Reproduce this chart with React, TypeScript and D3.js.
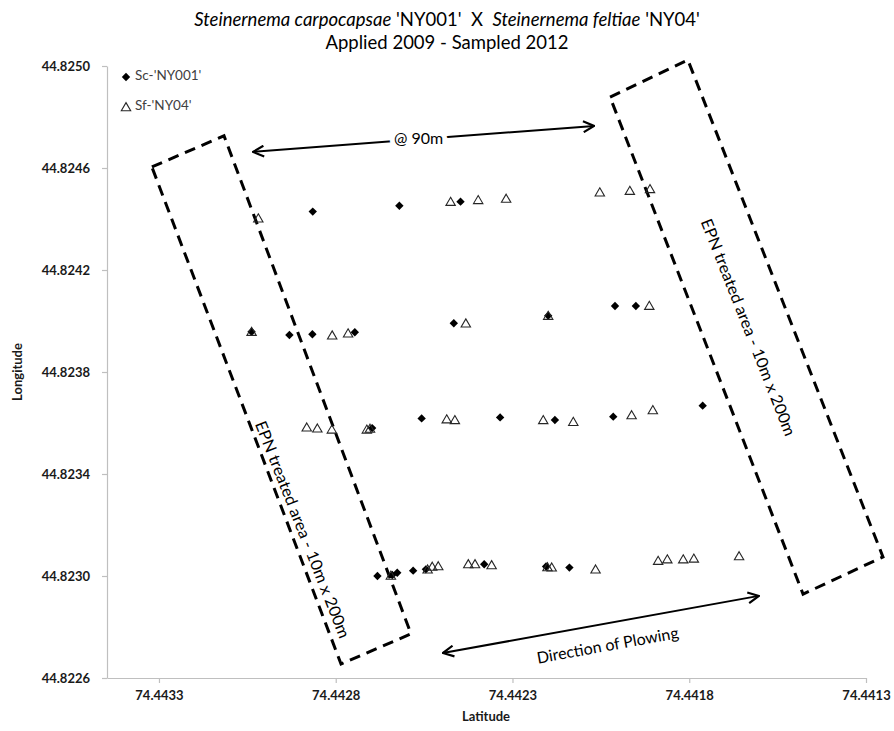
import React, { useEffect, useRef } from "react";
import * as d3 from "d3";

// Sampling locations: [latitude axis value, longitude axis value]
const scNY001: [number, number][] = [
  // transect 1
  [74.442865, 44.824429], [74.44262, 44.824452], [74.442447, 44.824468],
  // transect 2
  [74.443038, 44.823958], [74.442931, 44.823945], [74.442866, 44.823948],
  [74.442746, 44.823956], [74.442466, 44.823991], [74.442199, 44.824021],
  [74.44201, 44.824059], [74.441951, 44.824059],
  // transect 3
  [74.442697, 44.82358], [74.442557, 44.823618], [74.442335, 44.823622],
  [74.44218, 44.823612], [74.442015, 44.823625], [74.441762, 44.823668],
  // transect 4
  [74.442682, 44.823], [74.44264, 44.823004], [74.442626, 44.823013],
  [74.442581, 44.823021], [74.442545, 44.823026], [74.44238, 44.823046],
  [74.442205, 44.823037], [74.442139, 44.823033],
];

const sfNY04: [number, number][] = [
  // transect 1
  [74.443019, 44.824403], [74.442475, 44.824468], [74.442397, 44.824475],
  [74.442318, 44.82448], [74.442053, 44.824505], [74.441968, 44.824511],
  [74.441911, 44.824518],
  // transect 2
  [74.443038, 44.823958], [74.44281, 44.823944], [74.442765, 44.823952],
  [74.442432, 44.823991], [74.442199, 44.824021], [74.441913, 44.82406],
  // transect 3
  [74.442882, 44.823583], [74.442852, 44.823579], [74.442811, 44.823575],
  [74.442712, 44.823575], [74.442703, 44.823578], [74.442486, 44.823615],
  [74.442463, 44.823612], [74.442213, 44.823612], [74.442128, 44.823605],
  [74.441963, 44.823631], [74.441903, 44.823651],
  // transect 4
  [74.442644, 44.823002], [74.44254, 44.823026], [74.442527, 44.823037],
  [74.44251, 44.823039], [74.442425, 44.823047], [74.442406, 44.823047],
  [74.442359, 44.823043], [74.442201, 44.823035], [74.442189, 44.823034],
  [74.442065, 44.823026], [74.441888, 44.82306], [74.441862, 44.823066],
  [74.441817, 44.823066], [74.441787, 44.823069], [74.441659, 44.823078],
];

const xTicks = [74.4433, 74.4428, 74.4423, 74.4418, 74.4413];
const yTicks = [44.8226, 44.823, 44.8234, 44.8238, 44.8242, 44.8246, 44.825];

// Treated strips (corners in map units)
const leftStrip: [number, number][] = [
  [74.44332, 44.824604], [74.443116, 44.824726],
  [74.442587, 44.822773], [74.442785, 44.822655],
];
const rightStrip: [number, number][] = [
  [74.442024, 44.824878], [74.441804, 44.825024],
  [74.441252, 44.823075], [74.441478, 44.822929],
];

// Double-headed arrows
const spacingArrow: [number, number][] = [[74.443034, 44.824663], [74.442069, 44.824765]];
const plowArrow: [number, number][] = [[74.442497, 44.822698], [74.441603, 44.822922]];

const W = 894;
const H = 731;
const FONT = "Lato, 'Open Sans', 'DejaVu Sans', sans-serif";

const x = d3.scaleLinear().domain([74.443447, 74.4413]).range([107, 866]);
const y = d3.scaleLinear().domain([44.8226, 44.825]).range([678, 66]);

const diamond = "M0,-4.2L4.2,0L0,4.2L-4.2,0Z";
const triangle = "M0,-4.4L4.7,3.7L-4.7,3.7Z";

const strip = d3.line<[number, number]>().x((d) => x(d[0])).y((d) => y(d[1])).curve(d3.curveLinearClosed);

export default function App() {
  const xAxisRef = useRef<SVGGElement>(null);
  const yAxisRef = useRef<SVGGElement>(null);

  useEffect(() => {
    const fmt = d3.format(".4f");
    const gx = d3.select(xAxisRef.current!);
    gx.call(d3.axisBottom(x).tickValues(xTicks).tickFormat(fmt).tickSize(5).tickSizeOuter(0).tickPadding(8) as any);
    const gy = d3.select(yAxisRef.current!);
    gy.call(d3.axisLeft(y).tickValues(yTicks).tickFormat(fmt).tickSize(5).tickSizeOuter(0).tickPadding(12) as any);
    for (const g of [gx, gy]) {
      g.selectAll("path.domain").attr("stroke", "#bfbfbf").attr("stroke-width", 1.2);
      g.selectAll(".tick line").attr("stroke", "#bfbfbf").attr("stroke-width", 1.2);
      g.selectAll(".tick text")
        .attr("fill", "#1a1a1a")
        .attr("font-family", FONT)
        .attr("font-weight", "bold")
        .attr("font-size", 13);
    }
  }, []);

  const sx = x(spacingArrow[0][0]);
  const sy = y(spacingArrow[0][1]);
  const ex = x(spacingArrow[1][0]);
  const ey = y(spacingArrow[1][1]);
  const px1 = x(plowArrow[0][0]);
  const py1 = y(plowArrow[0][1]);
  const px2 = x(plowArrow[1][0]);
  const py2 = y(plowArrow[1][1]);
  const plowAngle = (Math.atan2(py2 - py1, px2 - px1) * 180) / Math.PI;
  const stripAngle = 68.5;

  return (
    <svg
      width={W}
      height={H}
      style={{ position: "absolute", left: 0, top: 0, background: "#fff" }}
      fontFamily={FONT}
    >
      <defs>
        <marker id="head" viewBox="0 0 12 12" refX="11" refY="6" markerWidth="13" markerHeight="13"
          markerUnits="userSpaceOnUse" orient="auto-start-reverse">
          <path d="M1,1L11,6L1,11" fill="none" stroke="#000" strokeWidth={2} />
        </marker>
      </defs>
      <rect width={W} height={H} fill="#fff" />

      {/* Title */}
      <text x={447} y={26} textAnchor="middle" fontSize={18.5} fill="#000" style={{ whiteSpace: "pre" }}>
        <tspan fontStyle="italic">Steinernema carpocapsae</tspan>
        <tspan>{" 'NY001'  X  "}</tspan>
        <tspan fontStyle="italic">Steinernema feltiae</tspan>
        <tspan>{" 'NY04'"}</tspan>
      </text>
      <text x={447} y={49} textAnchor="middle" fontSize={18.5} fill="#000">
        Applied 2009 - Sampled 2012
      </text>

      {/* Axes */}
      <g ref={xAxisRef} transform="translate(0,678)" />
      <g ref={yAxisRef} transform="translate(107,0)" />
      <text x={486} y={721} textAnchor="middle" fontSize={13} fontWeight="bold" fill="#1a1a1a">Latitude</text>
      <text transform="translate(22,372) rotate(-90)" textAnchor="middle" fontSize={13} fontWeight="bold" fill="#1a1a1a">
        Longitude
      </text>

      {/* Treated strips */}
      <path d={strip(leftStrip)!} fill="none" stroke="#000" strokeWidth={3} strokeDasharray="11 7" />
      <path d={strip(rightStrip)!} fill="none" stroke="#000" strokeWidth={3} strokeDasharray="11 7" />

      {/* Sc-'NY001' */}
      {scNY001.map((d, i) => (
        <path key={`sc${i}`} d={diamond} transform={`translate(${x(d[0])},${y(d[1])})`} fill="#000" />
      ))}
      {/* Sf-'NY04' */}
      {sfNY04.map((d, i) => (
        <path key={`sf${i}`} d={triangle} transform={`translate(${x(d[0])},${y(d[1])})`}
          fill="none" stroke="#262626" strokeWidth={1.1} />
      ))}

      {/* Arrows */}
      <line x1={sx} y1={sy} x2={ex} y2={ey} stroke="#000" strokeWidth={2}
        markerStart="url(#head)" markerEnd="url(#head)" />
      <text x={(sx + ex) / 2 - 5} y={(sy + ey) / 2 + 5} textAnchor="middle" fontSize={16} fill="#000"
        stroke="#fff" strokeWidth={10} style={{ paintOrder: "stroke" }}>
        @ 90m
      </text>
      <line x1={px1} y1={py1} x2={px2} y2={py2} stroke="#000" strokeWidth={2}
        markerStart="url(#head)" markerEnd="url(#head)" />
      <text transform={`translate(${x(74.44203)},${y(44.822722)}) rotate(${plowAngle})`} textAnchor="middle"
        dominantBaseline="middle" fontSize={16} fill="#000">
        Direction of Plowing
      </text>

      {/* Strip labels */}
      <text transform={`translate(${x(74.442898)},${y(44.82318)}) rotate(${stripAngle})`} textAnchor="middle"
        dominantBaseline="middle" fontSize={16} fill="#000" textLength={232} lengthAdjust="spacingAndGlyphs">
        EPN treated area - 10m x 200m
      </text>
      <text transform={`translate(${x(74.441637)},${y(44.823973)}) rotate(${stripAngle})`} textAnchor="middle"
        dominantBaseline="middle" fontSize={16} fill="#000" textLength={232} lengthAdjust="spacingAndGlyphs">
        EPN treated area - 10m x 200m
      </text>

      {/* Legend */}
      <path d={diamond} transform="translate(126,77)" fill="#000" />
      <text x={135} y={77} dominantBaseline="middle" fontSize={13.5} fill="#404040">Sc-'NY001'</text>
      <path d={triangle} transform="translate(126,107)" fill="none" stroke="#262626" strokeWidth={1.1} />
      <text x={135} y={107} dominantBaseline="middle" fontSize={13.5} fill="#404040">Sf-'NY04'</text>
    </svg>
  );
}
